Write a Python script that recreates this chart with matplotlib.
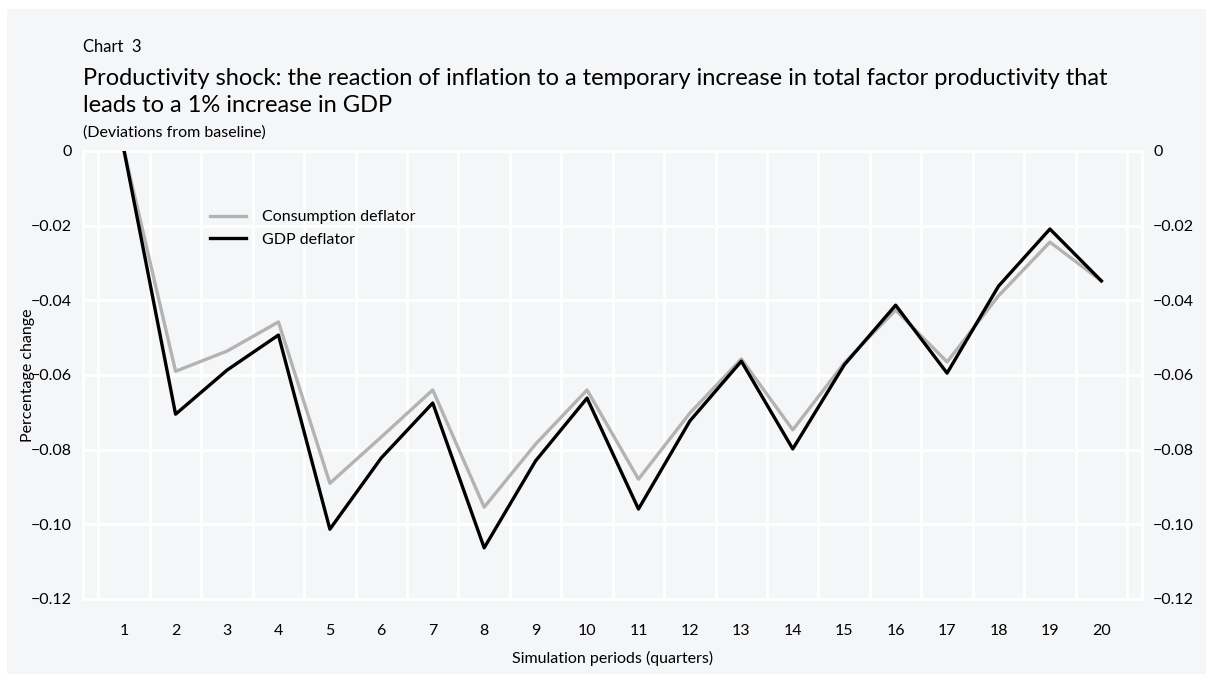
import matplotlib
matplotlib.use("Agg")
import matplotlib.pyplot as plt
from matplotlib.patches import Rectangle
from matplotlib.ticker import FuncFormatter, FixedLocator
import numpy as np

plt.rcParams['font.family'] = ['Lato', 'DejaVu Sans']

# data
periods = list(range(1, 21))
consumption_deflator = [0.0, -0.0590, -0.0536, -0.0458, -0.0890, -0.0766, -0.0640, -0.0954, -0.0785, -0.0640,
                        -0.0879, -0.0702, -0.0557, -0.0747, -0.0568, -0.0426, -0.0565, -0.0388, -0.0244, -0.0348]
gdp_deflator = [0.0, -0.0705, -0.0587, -0.0493, -0.1013, -0.0822, -0.0675, -0.1063, -0.0830, -0.0662,
                -0.0959, -0.0723, -0.0563, -0.0798, -0.0573, -0.0413, -0.0595, -0.0362, -0.0209, -0.0348]
y_ticks = [0, -0.02, -0.04, -0.06, -0.08, -0.10, -0.12]

bg = '#f5f6f8'

fig = plt.figure(figsize=(12.13, 6.82), dpi=100, facecolor='white')
fig.patches.append(Rectangle((7 / 1213, 8 / 682), 1199 / 1213, 665 / 682,
                             transform=fig.transFigure, facecolor=bg, edgecolor='none', zorder=-10))

ax = fig.add_axes([83 / 1213, 83 / 682, 1059 / 1213, 448 / 682])
ax.set_facecolor(bg)

ax.plot(periods, consumption_deflator, color='#b3b3b3', lw=2.4, label='Consumption deflator', zorder=3)
ax.plot(periods, gdp_deflator, color='black', lw=2.4, label='GDP deflator', zorder=4)

ax.set_xlim(0.2, 20.79)
ax.set_ylim(-0.12, 0)

# white grid: vertical between periods, horizontal at ticks
for xv in np.arange(0.5, 21, 1.0):
    ax.axvline(xv, color='white', lw=2, zorder=1)
for yv in y_ticks:
    ax.axhline(yv, color='white', lw=2, zorder=1)
for s in ax.spines.values():
    s.set_color('white')
    s.set_linewidth(2)

ax.xaxis.set_major_locator(FixedLocator(periods))
ax.set_xticklabels([str(p) for p in periods])
ax.yaxis.set_major_locator(FixedLocator(y_ticks))
ax.yaxis.set_major_formatter(FuncFormatter(lambda v, pos: '0' if abs(v) < 1e-9 else '\u2212%.2f' % abs(v)))
ax.tick_params(axis='both', length=0, labelsize=11.5, colors='black')
ax.tick_params(axis='x', pad=18)
ax.tick_params(axis='y', labelright=True, pad=8)

ax.set_xlabel('Simulation periods (quarters)', fontsize=11.5, labelpad=9)
ax.set_ylabel('Percentage change', fontsize=11.5, labelpad=-3)

leg = ax.legend(loc='upper left', bbox_to_anchor=(0.106, 0.9), frameon=False, fontsize=11.5,
                handlelength=2.3, handletextpad=1.0, labelspacing=0.5)

fig.text(83 / 1213, 1 - 47 / 682, 'Chart  3', fontsize=12, va='center', ha='left')
fig.text(83 / 1213, 1 - 92 / 682,
         'Productivity shock: the reaction of inflation to a temporary increase in total factor productivity that\n'
         'leads to a 1% increase in GDP',
         fontsize=17, va='center', ha='left', linespacing=1.3)
fig.text(83 / 1213, 1 - 133 / 682, '(Deviations from baseline)', fontsize=11.5, va='center', ha='left')

fig.savefig('out.png', dpi=100, facecolor=fig.get_facecolor())
